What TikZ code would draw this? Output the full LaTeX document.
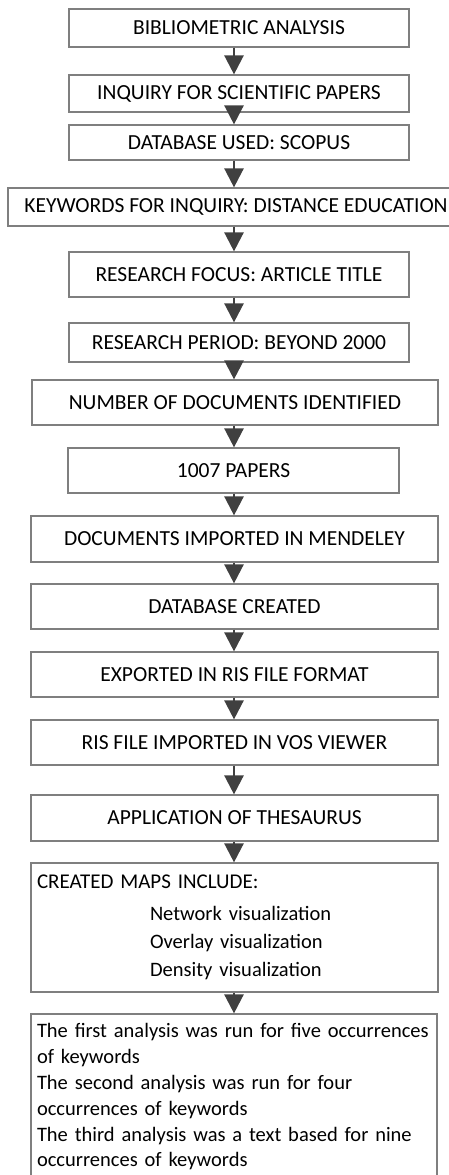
\documentclass[tikz,border=0pt]{standalone}
\usepackage{fontspec}
\setmainfont{Carlito}
\usetikzlibrary{arrows.meta}
\definecolor{boxline}{HTML}{7F7F7F}
\definecolor{arrcol}{HTML}{404040}
\tikzset{
  stepbox/.style={draw=boxline, line width=1.2pt, inner sep=0pt, align=center,
    font=\fontsize{21.5}{25}\selectfont, text=black},
  flowarrow/.style={draw=arrcol, line width=2.5pt, -{Triangle[width=19pt,length=19pt]}},
}
\newcommand{\mkbox}[6]{% name, left, top, right, bottom, text
  \pgfmathsetmacro{\cxx}{(#2+#4)/2}\pgfmathsetmacro{\cyy}{-(#3+#5)/2}
  \pgfmathsetmacro{\ww}{#4-#2}\pgfmathsetmacro{\hh}{#5-#3}
  \node[stepbox, minimum width=\ww pt, minimum height=\hh pt] (#1) at (\cxx pt,\cyy pt) {#6};}
\begin{document}
\begin{tikzpicture}
\useasboundingbox (0,0) rectangle (448pt,-1175pt);
\coordinate (ax) at (234pt,0);
\mkbox{b1}{69}{9}{409}{47}{BIBLIOMETRIC ANALYSIS}
\mkbox{b2}{69}{75}{409}{112}{INQUIRY FOR SCIENTIFIC PAPERS}
\mkbox{b3}{69}{125}{409}{160}{DATABASE USED: SCOPUS}
\mkbox{b4}{8}{188}{464}{226}{KEYWORDS FOR INQUIRY: DISTANCE EDUCATION}
\mkbox{b5}{69}{252}{409}{297}{RESEARCH FOCUS: ARTICLE TITLE}
\mkbox{b6}{69}{323}{409}{362}{RESEARCH PERIOD: BEYOND 2000}
\mkbox{b7}{32}{380}{438}{425}{NUMBER OF DOCUMENTS IDENTIFIED}
\mkbox{b8}{68}{448}{399}{493}{1007 PAPERS}
\mkbox{b9}{31}{516}{438}{562}{DOCUMENTS IMPORTED IN MENDELEY}
\mkbox{b10}{31}{584}{438}{629}{DATABASE CREATED}
\mkbox{b11}{31}{652}{438}{697}{EXPORTED IN RIS FILE FORMAT}
\mkbox{b12}{31}{720}{438}{765}{RIS FILE IMPORTED IN VOS VIEWER}
\mkbox{b13}{31}{795}{438}{841}{APPLICATION OF THESAURUS}
\node[stepbox, minimum width=407pt, minimum height=129pt, text width=395pt,
  inner xsep=6pt, align=left, font=\fontsize{20.5}{28}\selectfont]
  (b14) at (234.5pt,-927.5pt)
  {\mbox{\fontsize{21}{28}\selectfont CREATED MAPS INCLUDE:}\\[4pt]
   \hspace*{113pt}\mbox{Network visualization}\\
   \hspace*{113pt}\mbox{Overlay visualization}\\
   \hspace*{113pt}\mbox{Density visualization}};
\node[stepbox, minimum width=406pt, minimum height=166pt, text width=394pt,
  inner xsep=6pt, align=left, font=\fontsize{20.5}{25.8}\selectfont]
  (b15) at (234pt,-1097pt)
  {\mbox{The first analysis was run for five occurrences}\\
   \mbox{of keywords}\\
   \mbox{The second analysis was run for four}\\
   \mbox{occurrences of keywords}\\
   \mbox{The third analysis was a text based for nine}\\
   \mbox{occurrences of keywords}};
\foreach \a/\b in {b1/b2,b2/b3,b3/b4,b4/b5,b5/b6,b6/b7,b7/b8,b8/b9,b9/b10,b10/b11,b11/b12,b12/b13,b13/b14,b14/b15}
  \draw[flowarrow] (\a.south -| ax) -- (\b.north -| ax);
\end{tikzpicture}
\end{document}
